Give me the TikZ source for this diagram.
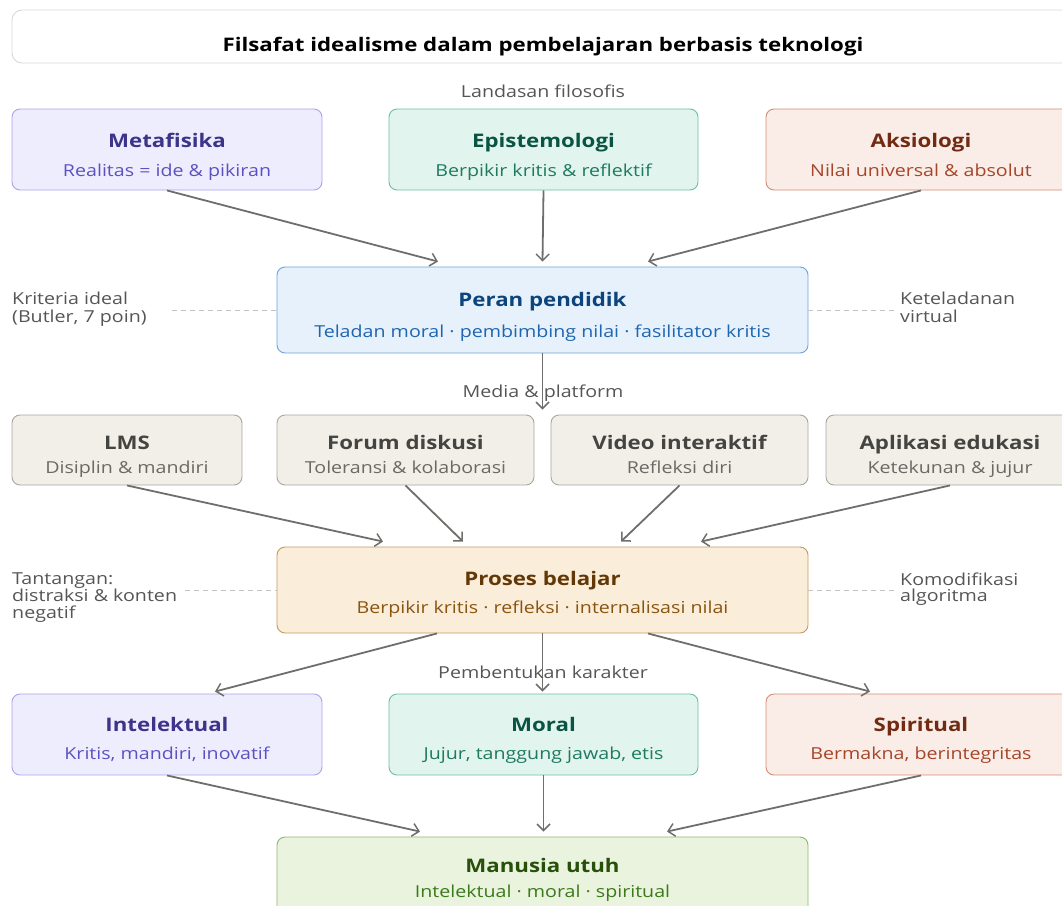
\documentclass[tikz,border=0pt]{standalone}
\usepackage{fontspec}
\setmainfont{Open Sans}[FakeStretch=1.19]
\usetikzlibrary{arrows.meta}
\definecolor{purF}{HTML}{EEEDFE}\definecolor{purD}{HTML}{A9A3EA}\definecolor{purT}{HTML}{3C3489}\definecolor{purS}{HTML}{5B52C0}
\definecolor{grnF}{HTML}{E1F5EE}\definecolor{grnD}{HTML}{6DBE9F}\definecolor{grnT}{HTML}{0B5443}\definecolor{grnS}{HTML}{1F7A60}
\definecolor{redF}{HTML}{FAECE7}\definecolor{redD}{HTML}{D58C74}\definecolor{redT}{HTML}{712B13}\definecolor{redS}{HTML}{A5462A}
\definecolor{bluF}{HTML}{E6F1FB}\definecolor{bluD}{HTML}{6FA3DA}\definecolor{bluT}{HTML}{0C447C}\definecolor{bluS}{HTML}{1F66B0}
\definecolor{gryF}{HTML}{F1EFE8}\definecolor{gryD}{HTML}{A8A69E}\definecolor{gryT}{HTML}{444441}\definecolor{gryS}{HTML}{6A6965}
\definecolor{ambF}{HTML}{FAEEDA}\definecolor{ambD}{HTML}{C29A5C}\definecolor{ambT}{HTML}{633806}\definecolor{ambS}{HTML}{8A5410}
\definecolor{lgrF}{HTML}{EAF3DE}\definecolor{lgrD}{HTML}{8DB868}\definecolor{lgrT}{HTML}{27500A}\definecolor{lgrS}{HTML}{3B7A1A}
\definecolor{arrC}{HTML}{6F6E6A}\definecolor{dashC}{HTML}{C4C4C4}\definecolor{lblC}{HTML}{555555}\definecolor{ttlD}{HTML}{D8D8D8}
\begin{document}
\begin{tikzpicture}[x=1pt,y=-1pt,
  box/.style={draw, rounded corners=8pt, line width=0.9pt, inner sep=0pt},
  ttl/.style={anchor=base, font=\fontsize{18.7}{22}\selectfont\bfseries},
  sub/.style={anchor=base, font=\fontsize{16.5}{19}\selectfont},
  lbl/.style={font=\fontsize{16.5}{18.4}\selectfont, text=lblC, inner sep=0pt},
  side/.style={lbl, anchor=north west, align=left},
  arr/.style={draw=arrC, line width=1.8pt, -{Straight Barb[length=6.5pt,width=13pt,line width=1.5pt]}},
  dsh/.style={draw=dashC, line width=1pt, dash pattern=on 5pt off 4pt},
  purple/.style={fill=purF, draw=purD}, green/.style={fill=grnF, draw=grnD},
  red/.style={fill=redF, draw=redD}, blue/.style={fill=bluF, draw=bluD},
  grey/.style={fill=gryF, draw=gryD}, amber/.style={fill=ambF, draw=ambD},
  lgreen/.style={fill=lgrF, draw=lgrD}]
\useasboundingbox (0,0) rectangle (1062,905);
\clip (0,0) rectangle (1062,905);
% title
\node[draw=ttlD, line width=0.9pt, fill=white, rounded corners=10pt, minimum width=1062pt, minimum height=53pt] (title) at (543,36.5) {};
\node[anchor=base, font=\fontsize{18.7}{22}\selectfont\bfseries, text=black] (titleT) at (543,51) {Filsafat idealisme dalam pembelajaran berbasis teknologi};
\node[lbl, anchor=base] (landasan) at (543,97) {Landasan filosofis};
% top row
\node[box, purple, minimum width=310pt, minimum height=81pt] (meta) at (167,149.5) {};
\node[ttl, text=purT] at (167,147.5) {Metafisika};
\node[sub, text=purS] at (167,176) {Realitas = ide \& pikiran};
\node[box, green, minimum width=309pt, minimum height=81pt] (epis) at (543.5,149.5) {};
\node[ttl, text=grnT] at (543.5,147.5) {Epistemologi};
\node[sub, text=grnS] at (543.5,176) {Berpikir kritis \& reflektif};
\node[box, red, minimum width=310pt, minimum height=81pt] (aks) at (921,149.5) {};
\node[ttl, text=redT] at (921,147.5) {Aksiologi};
\node[sub, text=redS] at (921,176) {Nilai universal \& absolut};
% peran
\node[box, blue, minimum width=531pt, minimum height=86pt] (peran) at (542.5,310) {};
\node[ttl, text=bluT] at (542.5,306) {Peran pendidik};
\node[sub, text=bluS] at (542.5,337.5) {Teladan moral · pembimbing nilai · fasilitator kritis};
\draw[arr] (meta.south) -- ([xshift=-104.5pt,yshift=5pt]peran.north);
\draw[arr] (epis.south) -- ([yshift=5pt]peran.north);
\draw[arr] (aks.south) -- ([xshift=105.5pt,yshift=5pt]peran.north);
\node[side] (krit) at (12,291.8) {Kriteria ideal\\(Butler, 7 poin)};
\coordinate (kritE) at (172,310);
\draw[dsh] (kritE) -- (peran.west);
\node[side] (ketel) at (900,291.8) {Keteladanan\\virtual};
\coordinate (ketelW) at (895,310);
\draw[dsh] (peran.east) -- (ketelW);
% media row
\node[lbl, anchor=base] (media) at (543,397) {Media \& platform};
\node[box, grey, minimum width=230pt, minimum height=70pt] (lms) at (127,450) {};
\node[ttl, text=gryT] at (127,449.5) {LMS};
\node[sub, text=gryS] at (127,473) {Disiplin \& mandiri};
\node[box, grey, minimum width=257pt, minimum height=70pt] (forum) at (405.5,450) {};
\node[ttl, text=gryT] at (405.5,449.5) {Forum diskusi};
\node[sub, text=gryS] at (405.5,473) {Toleransi \& kolaborasi};
\node[box, grey, minimum width=257pt, minimum height=70pt] (video) at (679.5,450) {};
\node[ttl, text=gryT] at (679.5,449.5) {Video interaktif};
\node[sub, text=gryS] at (679.5,473) {Refleksi diri};
\node[box, grey, minimum width=248pt, minimum height=70pt] (apl) at (950,450) {};
\node[ttl, text=gryT] at (950,449.5) {Aplikasi edukasi};
\node[sub, text=gryS] at (950,473) {Ketekunan \& jujur};
\draw[arr] (peran.south) -- ([yshift=5pt]forum.north -| peran.south);
% proses
\node[box, amber, minimum width=531pt, minimum height=86pt] (proses) at (542.5,590) {};
\node[ttl, text=ambT] at (542.5,585) {Proses belajar};
\node[sub, text=ambS] at (542.5,613) {Berpikir kritis · refleksi · internalisasi nilai};
\draw[arr] (lms.south) -- ([xshift=-159.5pt,yshift=5pt]proses.north);
\draw[arr] (forum.south) -- ([xshift=-79.5pt,yshift=5pt]proses.north);
\draw[arr] (video.south) -- ([xshift=78.5pt,yshift=5pt]proses.north);
\draw[arr] (apl.south) -- ([xshift=158.5pt,yshift=5pt]proses.north);
\node[side] (tant) at (12,572.2) {Tantangan:\\[-1.3pt]distraksi \& konten\\[-1.3pt]negatif};
\coordinate (tantE) at (185,590);
\draw[dsh] (tantE) -- (proses.west);
\node[side] (komod) at (900,572.5) {Komodifikasi\\[-1.8pt]algoritma};
\coordinate (komodW) at (895,590);
\draw[dsh] (proses.east) -- (komodW);
% bottom row
\node[box, purple, minimum width=310pt, minimum height=81pt] (intel) at (167,734.5) {};
\node[ttl, text=purT] at (167,731.5) {Intelektual};
\node[sub, text=purS] at (167,759) {Kritis, mandiri, inovatif};
\node[box, green, minimum width=309pt, minimum height=81pt] (moral) at (543.5,734.5) {};
\node[ttl, text=grnT] at (543.5,731.5) {Moral};
\node[sub, text=grnS] at (543.5,759) {Jujur, tanggung jawab, etis};
\node[box, red, minimum width=310pt, minimum height=81pt] (spir) at (921,734.5) {};
\node[ttl, text=redT] at (921,731.5) {Spiritual};
\node[sub, text=redS] at (921,759) {Bermakna, berintegritas};
\draw[arr] ([xshift=-105.5pt]proses.south) -- ([xshift=48pt,yshift=2pt]intel.north);
\draw[arr] (proses.south) -- ([yshift=2pt]moral.north -| proses.south);
\draw[arr] ([xshift=105.5pt]proses.south) -- ([xshift=-51pt,yshift=2pt]spir.north);
\node[lbl, anchor=base] (pemb) at (543,678) {Pembentukan karakter};
% manusia
\node[box, lgreen, minimum width=531pt, minimum height=84pt] (manusia) at (542.5,879) {};
\node[ttl, text=lgrT] at (542.5,872.5) {Manusia utuh};
\node[sub, text=lgrS] at (542.5,897) {Intelektual · moral · spiritual};
\draw[arr] (intel.south) -- ([xshift=-122.5pt,yshift=5pt]manusia.north);
\draw[arr] (moral.south) -- ([yshift=5pt]manusia.north -| moral.south);
\draw[arr] (spir.south) -- ([xshift=124.5pt,yshift=5pt]manusia.north);
\end{tikzpicture}
\end{document}
